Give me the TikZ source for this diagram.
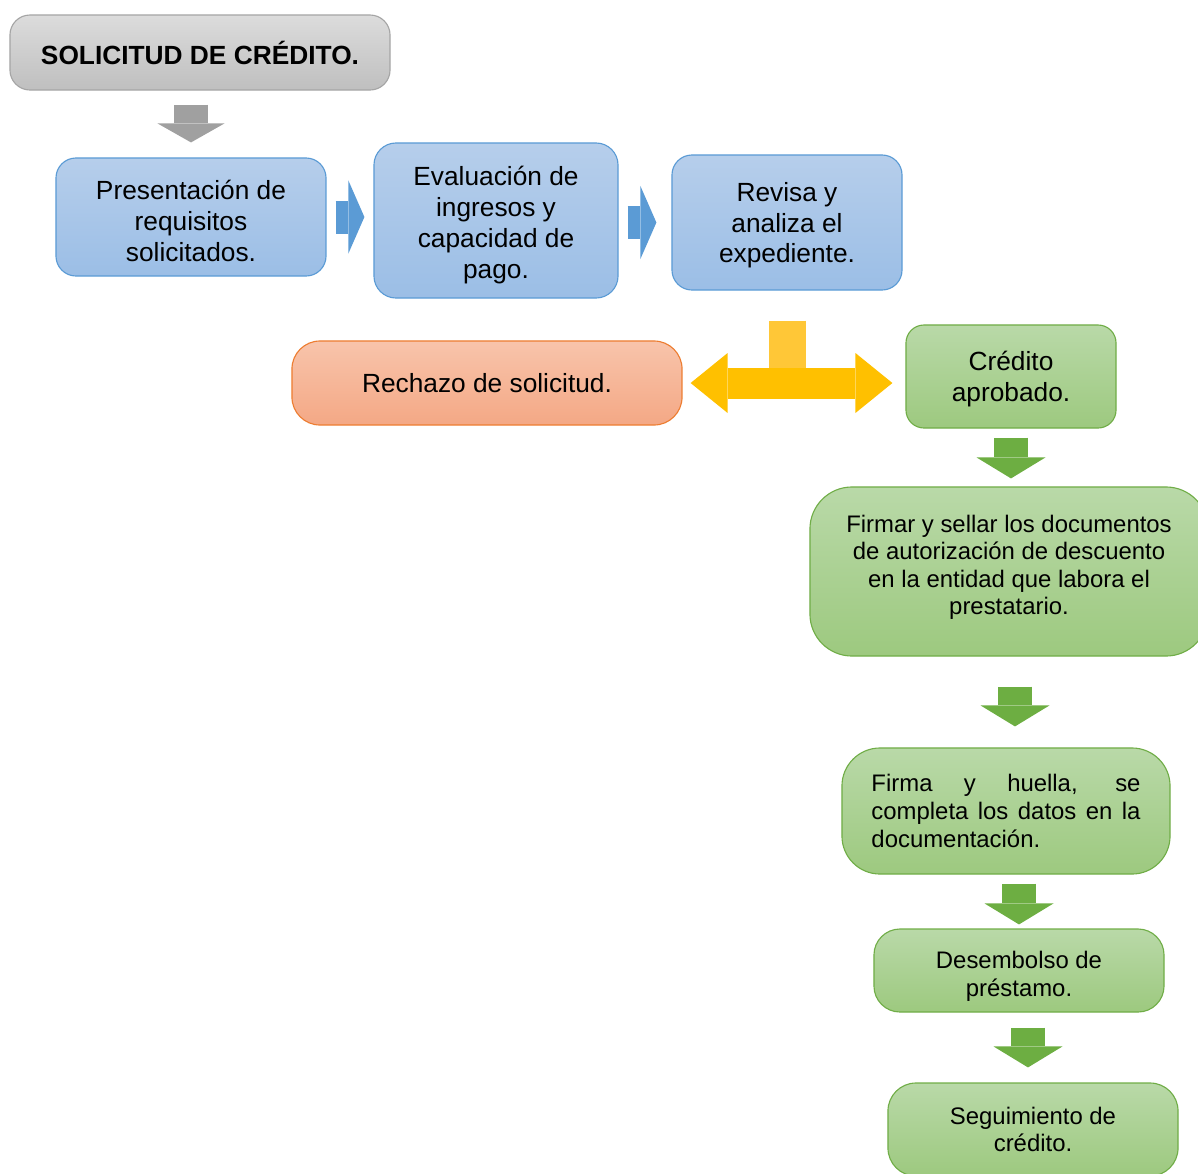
\documentclass[tikz,border=0pt]{standalone}
\usepackage{fontspec}
\setmainfont{Liberation Sans}
\usepackage{tikz}
\usetikzlibrary{arrows.meta,positioning,calc}
\usepackage{xcolor}

\definecolor{grayTop}{HTML}{DCDCDC}
\definecolor{grayBot}{HTML}{BFBFBF}
\definecolor{grayLine}{HTML}{A5A5A5}
\definecolor{grayArrow}{HTML}{A0A0A0}
\definecolor{blueTop}{HTML}{B6CEEB}
\definecolor{blueBot}{HTML}{9BBEE6}
\definecolor{blueLine}{HTML}{5B9BD5}
\definecolor{blueArrow}{HTML}{5B9BD5}
\definecolor{orangeTop}{HTML}{F8C4AB}
\definecolor{orangeBot}{HTML}{F4A885}
\definecolor{orangeLine}{HTML}{ED7D31}
\definecolor{greenTop}{HTML}{B9D9A8}
\definecolor{greenBot}{HTML}{9DC97F}
\definecolor{greenLine}{HTML}{70AD47}
\definecolor{greenArrow}{HTML}{6DAE42}
\definecolor{yellowArrow}{HTML}{FFC000}
\definecolor{yellowStem}{HTML}{FFC737}

\begin{document}
\begin{tikzpicture}[x=0.025cm,y=-0.025cm,
  box/.style={draw, rounded corners=0.5cm, line width=0.8pt, align=center, inner sep=0pt,
    font=\fontsize{18.7}{22}\selectfont},
  graybox/.style={box, draw=grayLine, top color=grayTop, bottom color=grayBot},
  bluebox/.style={box, draw=blueLine, top color=blueTop, bottom color=blueBot},
  orangebox/.style={box, draw=orangeLine, top color=orangeTop, bottom color=orangeBot},
  greenbox/.style={box, draw=greenLine, top color=greenTop, bottom color=greenBot},
  smalltext/.style={font=\fontsize{17}{19.6}\selectfont},
  grayarrow/.style={draw=grayArrow, line width=0.825cm,
    -{Triangle[width=1.675cm,length=0.475cm,line width=0pt]}},
  bluearrow/.style={draw=blueArrow, line width=0.825cm,
    -{Triangle[width=1.825cm,length=0.4cm,line width=0pt]}},
  greenarrow/.style={draw=greenArrow, line width=0.85cm,
    -{Triangle[width=1.725cm,length=0.525cm,line width=0pt]}},
  yellowarrow/.style={draw=yellowArrow, line width=0.775cm,
    {Triangle[width=1.5cm,length=0.925cm,line width=0pt]}-{Triangle[width=1.5cm,length=0.925cm,line width=0pt]}}
]
  \useasboundingbox (0,0) rectangle (1198,1173);
  \clip (0,0) rectangle (1198,1173);

  % top of the flow
  \node (sol)  at (200,52.5)  [graybox, minimum width=9.5cm, minimum height=1.875cm, font=\bfseries\fontsize{18.7}{22}\selectfont] {SOLICITUD DE CRÉDITO.};
  \node (pres) at (191,217)   [bluebox, minimum width=6.75cm, minimum height=2.95cm, text height=63.5pt, text depth=0pt] {Presentación de\\requisitos\\solicitados.};
  \node (eval) at (496,220.5) [bluebox, minimum width=6.1cm, minimum height=3.875cm, rounded corners=0.55cm, text height=82.6pt, text depth=0pt] {Evaluación de\\ingresos y\\capacidad de\\pago.};
  \node (rev)  at (787,222.5) [bluebox, minimum width=5.75cm, minimum height=3.375cm, text depth=0pt] {Revisa y\\analiza el\\expediente.};

  % decision
  \node (rech) at (487,383)   [orangebox, minimum width=9.75cm, minimum height=2.1cm, rounded corners=0.7cm] {Rechazo de solicitud.};
  \node (cred) at (1011,376.5) [greenbox, minimum width=5.25cm, minimum height=2.575cm, rounded corners=0.45cm, text depth=0pt] {Crédito\\aprobado.};

  % approved branch
  \node (firmar) at (1009,571.5) [greenbox, smalltext, minimum width=9.95cm, minimum height=4.225cm, rounded corners=1.05cm, text depth=9.6pt] {Firmar y sellar los documentos\\de autorización de descuento\\en la entidad que labora el\\prestatario.};
  \node (firma)  at (1006,811)   [greenbox, smalltext, minimum width=8.2cm, minimum height=3.15cm, rounded corners=0.95cm, text width=6.725cm, align=justify] {Firma y huella, se\linebreak completa los datos en la\linebreak documentación.};
  \node (desem)  at (1019,970.5) [greenbox, smalltext, minimum width=7.25cm, minimum height=2.075cm, rounded corners=0.65cm, text height=36.3pt, text depth=0pt] {Desembolso de\\préstamo.};
  \node (seg)    at (1033,1129.5) [greenbox, smalltext, minimum width=7.25cm, minimum height=2.325cm, rounded corners=0.7cm] {Seguimiento de\\crédito.};

  % block arrows
  \draw[grayarrow, shorten <=0.35cm, shorten >=0.375cm] (pres.north |- sol.south) -- (pres.north);
  \draw[bluearrow, shorten <=0.225cm, shorten >=0.225cm] (pres.east) -- (pres.east -| eval.west);
  \draw[bluearrow, shorten <=0.225cm, shorten >=0.375cm] (rev.west -| eval.east) -- (rev.west);
  \draw[draw=yellowStem, line width=0.925cm, shorten <=0.75cm] (rev.south) -- (rev.south |- rech.east);
  \draw[yellowarrow, shorten <=0.2cm, shorten >=0.325cm] (rech.east) -- (rech.east -| cred.west);
  \draw[greenarrow, shorten <=0.225cm, shorten >=0.2cm] (cred.south) -- (cred.south |- firmar.north);
  \draw[greenarrow, shorten <=0.75cm, shorten >=0.525cm] ($(firmar.south)+(6,0)$) -- ($(firma.north)+(9,0)$);
  \draw[greenarrow, shorten <=0.225cm, shorten >=0.1cm] (desem.north |- firma.south) -- (desem.north);
  \draw[greenarrow, shorten <=0.375cm, shorten >=0.375cm] ($(desem.south)+(9,0)$) -- ($(seg.north)+(-5,0)$);
\end{tikzpicture}
\end{document}
